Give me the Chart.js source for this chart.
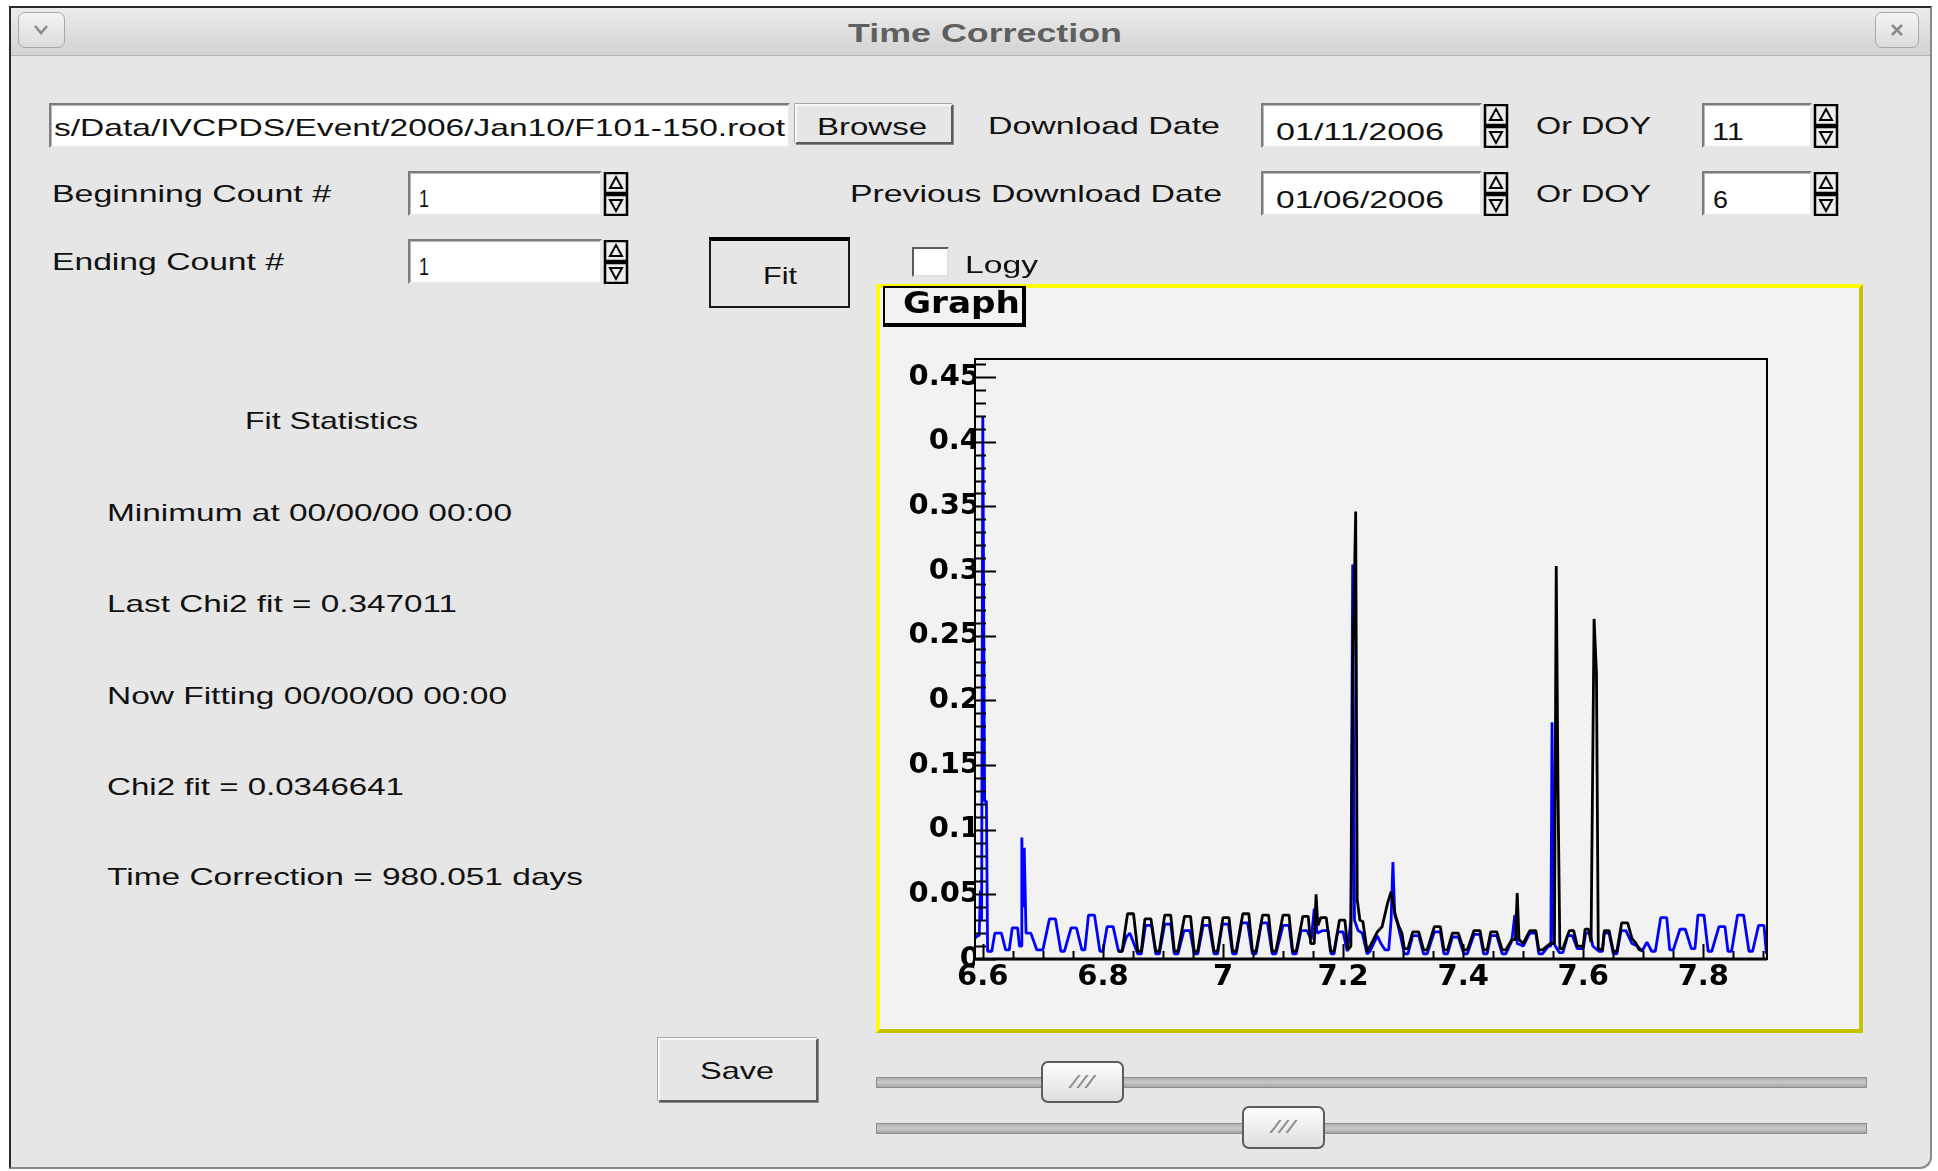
<!DOCTYPE html>
<html>
<head>
<meta charset="utf-8">
<script src="https://cdn.jsdelivr.net/npm/chart.js@4.4.1/dist/chart.umd.min.js"></script>
<style>
  html,body{margin:0;padding:0;}
  body{width:1938px;height:1171px;overflow:hidden;position:relative;background:#ffffff;font-family:"Liberation Sans",Arial,sans-serif;color:#111;}
  .abs{position:absolute;box-sizing:border-box;}
  #win{left:9px;top:6px;width:1923px;height:1163px;background:#e6e6e6;border-left:2px solid #2a2a2a;border-top:2px solid #2a2a2a;border-right:2px solid #8a8a8a;border-bottom:2px solid #8a8a8a;border-radius:0 0 12px 0;}
  #titlebar{left:11px;top:8px;width:1919px;height:48px;background:linear-gradient(#ececec,#d2d2d2);border-bottom:1px solid #b4b4b4;}
  .tbtn{border:1px solid #a8a8a8;border-radius:7px;background:linear-gradient(#f4f4f4,#dcdcdc);}
  .t{position:absolute;white-space:nowrap;line-height:1;transform-origin:0 50%;transform:translateY(-50%);}
  .entry{background:#fff;border-style:solid;border-width:2px;border-color:#7c7c7c #e8e8e8 #e8e8e8 #7c7c7c;box-shadow:inset 1px 1px 0 #b8b8b8;}
  .btn{background:#e6e6e6;border-style:solid;border-width:2px;border-color:#f8f8f8 #5a5a5a #5a5a5a #f8f8f8;box-shadow:1px 1px 0 #8c8c8c, -1px -1px 0 #a8a8a8;}
  .track{background:linear-gradient(#b0b0b0,#c8c8c8 50%,#a4a4a4);border:1px solid #8e8e8e;}
  .thumb{border:2px solid #5c5c5c;border-radius:7px;background:linear-gradient(#fdfdfd,#dedede);}
  #yellow{left:876px;top:284px;width:987px;height:749px;border-style:solid;border-width:4px;border-color:#ffff00 #c4c400 #c4c400 #ffff00;background:#f2f2f2;}
  #chartbox{position:absolute;left:880px;top:288px;width:979px;height:741px;}
  #graphbox{left:883px;top:286px;width:143px;height:41px;border-left:2px solid #000;border-top:2px solid #000;border-right:4px solid #000;border-bottom:4px solid #000;background:#f2f2f2;}
</style>
</head>
<body>
<div id="win" class="abs"></div>
<div id="titlebar" class="abs"></div>
<div class="abs tbtn" style="left:18px;top:12px;width:47px;height:36px;">
  <svg width="45" height="34" style="position:absolute;left:0;top:0"><polyline points="16,13 22,20 28,13" fill="none" stroke="#8a8a8a" stroke-width="2.5"/></svg>
</div>
<div class="abs tbtn" style="left:1875px;top:12px;width:44px;height:36px;">
  <svg width="42" height="34" style="position:absolute;left:0;top:0"><path d="M16,12 L26,22 M26,12 L16,22" stroke="#8a8a8a" stroke-width="2.5"/></svg>
</div>

<!-- entries -->
<div class="abs entry" style="left:49px;top:103px;width:741px;height:45px;"></div>
<div class="abs btn" style="left:795px;top:104px;width:158px;height:40px;"></div>
<div class="abs entry" style="left:1261px;top:103px;width:221px;height:45px;"></div>
<div class="abs entry" style="left:1702px;top:103px;width:110px;height:45px;"></div>
<div class="abs entry" style="left:408px;top:171px;width:194px;height:45px;"></div>
<div class="abs entry" style="left:1261px;top:171px;width:221px;height:45px;"></div>
<div class="abs entry" style="left:1702px;top:171px;width:110px;height:45px;"></div>
<div class="abs entry" style="left:408px;top:239px;width:194px;height:45px;"></div>
<div class="abs" style="left:709px;top:237px;width:141px;height:71px;border:2px solid #1a1a1a;border-top:4px solid #000;background:#e6e6e6;"></div>
<div class="abs" style="left:912px;top:247px;width:37px;height:30px;background:#fff;border-style:solid;border-width:2px;border-color:#5a5a5a #e0e0e0 #e0e0e0 #5a5a5a;"></div>
<div class="abs btn" style="left:658px;top:1038px;width:160px;height:64px;"></div>

<!-- sliders -->
<div class="abs track" style="left:876px;top:1077px;width:991px;height:11px;"></div>
<div class="abs track" style="left:876px;top:1123px;width:991px;height:11px;"></div>
<div class="abs thumb" style="left:1041px;top:1061px;width:83px;height:42px;"></div>
<div class="abs thumb" style="left:1242px;top:1106px;width:83px;height:43px;"></div>

<div id="yellow" class="abs"></div>
<div id="chartbox"><canvas id="c"></canvas></div>
<div id="graphbox" class="abs"></div>

<script>
// ---------------- data ----------------
const xTickValues = [6.6, 6.8, 7, 7.2, 7.4, 7.6, 7.8];
const yTickValues = [0, 0.05, 0.1, 0.15, 0.2, 0.25, 0.3, 0.35, 0.4, 0.45];
const xRange = [6.587, 7.906];
const yRange = [0, 0.464];

const blackX = [6.826,6.832,6.841,6.851,6.858,6.864,6.870,6.880,6.888,6.894,6.903,6.913,6.919,6.925,6.936,6.946,6.952,6.958,6.967,6.977,6.985,6.991,7.000,7.010,7.016,7.022,7.033,7.043,7.049,7.055,7.066,7.076,7.082,7.088,7.100,7.110,7.116,7.122,7.133,7.142,7.146,7.152,7.155,7.158,7.163,7.172,7.179,7.185,7.194,7.203,7.208,7.213,7.216,7.221,7.2235,7.228,7.233,7.240,7.245,7.257,7.265,7.274,7.280,7.287,7.293,7.298,7.302,7.308,7.316,7.326,7.334,7.340,7.352,7.362,7.368,7.374,7.382,7.392,7.401,7.407,7.418,7.428,7.434,7.440,7.446,7.456,7.465,7.471,7.481,7.487,7.490,7.493,7.500,7.511,7.521,7.526,7.532,7.545,7.552,7.555,7.558,7.561,7.566,7.573,7.577,7.584,7.590,7.600,7.603,7.609,7.613,7.618,7.622,7.625,7.632,7.635,7.643,7.650,7.656,7.664,7.674,7.681,7.688,7.693,7.699];
const blackY = [0.006,0.006,0.035,0.035,0.006,0.006,0.031,0.031,0.006,0.006,0.034,0.034,0.006,0.006,0.033,0.033,0.006,0.006,0.032,0.032,0.006,0.006,0.032,0.032,0.006,0.006,0.035,0.035,0.006,0.006,0.034,0.034,0.006,0.006,0.034,0.034,0.006,0.006,0.033,0.033,0.012,0.012,0.050,0.026,0.032,0.032,0.006,0.006,0.030,0.030,0.007,0.010,0.223,0.346,0.046,0.030,0.029,0.006,0.010,0.021,0.025,0.043,0.052,0.034,0.025,0.020,0.008,0.008,0.021,0.021,0.007,0.007,0.025,0.025,0.007,0.007,0.020,0.020,0.007,0.007,0.022,0.022,0.007,0.007,0.021,0.021,0.007,0.007,0.015,0.015,0.051,0.015,0.012,0.022,0.022,0.007,0.007,0.012,0.012,0.304,0.128,0.008,0.008,0.017,0.022,0.022,0.010,0.010,0.023,0.023,0.013,0.263,0.221,0.008,0.007,0.022,0.022,0.006,0.006,0.028,0.028,0.016,0.012,0.007,0.007];

const blueX = [6.587,6.591,6.594,6.596,6.598,6.600,6.603,6.606,6.608,6.615,6.620,6.631,6.638,6.644,6.649,6.658,6.661,6.664,6.665,6.667,6.669,6.672,6.680,6.690,6.700,6.711,6.721,6.730,6.736,6.747,6.756,6.765,6.770,6.776,6.786,6.795,6.800,6.807,6.817,6.826,6.832,6.839,6.845,6.858,6.864,6.871,6.881,6.888,6.894,6.903,6.913,6.919,6.925,6.935,6.945,6.952,6.958,6.967,6.977,6.985,6.991,6.999,7.009,7.016,7.022,7.031,7.041,7.049,7.055,7.064,7.074,7.082,7.088,7.100,7.110,7.116,7.122,7.130,7.140,7.147,7.152,7.157,7.166,7.175,7.180,7.185,7.191,7.200,7.207,7.213,7.216,7.219,7.225,7.232,7.240,7.245,7.257,7.263,7.270,7.276,7.280,7.283,7.286,7.291,7.297,7.302,7.308,7.316,7.326,7.334,7.340,7.352,7.362,7.368,7.374,7.382,7.392,7.401,7.407,7.418,7.428,7.434,7.440,7.446,7.456,7.465,7.471,7.481,7.486,7.490,7.500,7.511,7.521,7.526,7.532,7.542,7.546,7.548,7.551,7.560,7.566,7.574,7.582,7.590,7.600,7.604,7.611,7.616,7.626,7.632,7.635,7.643,7.650,7.656,7.663,7.671,7.681,7.690,7.698,7.706,7.714,7.720,7.729,7.739,7.744,7.750,7.761,7.770,7.780,7.786,7.791,7.801,7.808,7.814,7.826,7.836,7.841,7.847,7.857,7.867,7.876,7.882,7.892,7.901,7.905];
const blueY = [0.016,0.018,0.018,0.053,0.030,0.420,0.122,0.122,0.006,0.006,0.020,0.020,0.007,0.007,0.024,0.024,0.010,0.010,0.094,0.040,0.086,0.020,0.020,0.007,0.007,0.031,0.031,0.006,0.006,0.024,0.024,0.007,0.007,0.034,0.034,0.006,0.006,0.025,0.025,0.006,0.006,0.017,0.020,0.004,0.004,0.026,0.026,0.004,0.004,0.027,0.027,0.004,0.004,0.022,0.022,0.004,0.004,0.026,0.026,0.004,0.004,0.027,0.027,0.004,0.004,0.028,0.028,0.004,0.004,0.028,0.028,0.004,0.004,0.026,0.026,0.004,0.004,0.022,0.022,0.015,0.039,0.020,0.022,0.022,0.004,0.004,0.021,0.021,0.006,0.030,0.305,0.030,0.022,0.020,0.004,0.006,0.018,0.012,0.007,0.007,0.030,0.075,0.034,0.027,0.015,0.004,0.004,0.018,0.018,0.004,0.004,0.021,0.021,0.004,0.004,0.017,0.017,0.004,0.004,0.019,0.019,0.004,0.004,0.018,0.018,0.004,0.004,0.014,0.034,0.012,0.010,0.020,0.020,0.004,0.004,0.010,0.010,0.183,0.012,0.005,0.005,0.018,0.018,0.008,0.008,0.020,0.020,0.010,0.006,0.006,0.020,0.020,0.004,0.004,0.022,0.022,0.012,0.010,0.006,0.013,0.006,0.006,0.032,0.032,0.007,0.007,0.023,0.023,0.008,0.008,0.034,0.034,0.006,0.006,0.025,0.025,0.006,0.006,0.034,0.034,0.006,0.006,0.026,0.026,0.004];

// ---------------- UI text ----------------
function lab(text, x1, x2, cy, size, extra){
  const d = document.createElement('div');
  d.className = 't';
  d.textContent = text;
  d.style.left = x1 + 'px';
  d.style.top = cy + 'px';
  d.style.fontSize = size + 'px';
  if (extra) Object.assign(d.style, extra);
  document.body.appendChild(d);
  const w = d.getBoundingClientRect().width;
  d.style.transform = 'translateY(-50%) scaleX(' + ((x2 - x1) / w) + ')';
  return d;
}
function spinner(x, y, w, h){
  const s = document.createElementNS('http://www.w3.org/2000/svg','svg');
  s.setAttribute('width', w); s.setAttribute('height', h);
  s.style.position = 'absolute'; s.style.left = x + 'px'; s.style.top = y + 'px';
  const hh = h / 2, cx = w / 2;
  s.innerHTML =
    '<rect x="2" y="1" width="' + (w-4) + '" height="' + (hh-2) + '" fill="#ececec" stroke="#000" stroke-width="2.5"/>' +
    '<rect x="2" y="' + (hh+1) + '" width="' + (w-4) + '" height="' + (hh-2) + '" fill="#ececec" stroke="#000" stroke-width="2.5"/>' +
    '<path d="M' + (cx-6) + ',' + (hh-6) + ' L' + cx + ',' + 5 + ' L' + (cx+6) + ',' + (hh-6) + ' Z" fill="none" stroke="#000" stroke-width="2"/>' +
    '<path d="M' + (cx-6) + ',' + (hh+6) + ' L' + cx + ',' + (h-5) + ' L' + (cx+6) + ',' + (hh+6) + ' Z" fill="none" stroke="#000" stroke-width="2"/>';
  document.body.appendChild(s);
}

const F = 24;
lab('Time Correction', 848, 1122, 33, 26, {fontWeight:'bold', color:'#5f5f5f'});
lab('s/Data/IVCPDS/Event/2006/Jan10/F101-150.root', 54, 785, 128, F);
lab('Browse', 817, 927, 127, F);
lab('Download Date', 988, 1220, 126, F);
lab('01/11/2006', 1276, 1444, 132, F);
lab('Or DOY', 1536, 1651, 126, F);
lab('11', 1712, 1744, 132, F);
lab('Beginning Count #', 52, 331, 194, F);
lab('1', 419, 429, 199, F);
lab('Previous Download Date', 850, 1222, 194, F);
lab('01/06/2006', 1276, 1444, 200, F);
lab('Or DOY', 1536, 1651, 194, F);
lab('6', 1713, 1728, 200, F);
lab('Ending Count #', 52, 284, 262, F);
lab('1', 419, 429, 267, F);
lab('Fit', 763, 797, 276, F);
lab('Logy', 965, 1038, 265, F);
lab('Fit Statistics', 245, 418, 421, F);
lab('Minimum at 00/00/00 00:00', 107, 512, 513, F);
lab('Last Chi2 fit = 0.347011', 107, 457, 604, F);
lab('Now Fitting 00/00/00 00:00', 107, 507, 696, F);
lab('Chi2 fit = 0.0346641', 107, 404, 787, F);
lab('Time Correction = 980.051 days', 107, 583, 877, F);
lab('Save', 700, 774, 1071, F);
lab('///', 1070, 1094, 1082, 18, {color:'#8a8a8a', fontStyle:'italic'});
lab('///', 1271, 1295, 1127, 18, {color:'#8a8a8a', fontStyle:'italic'});
lab('Graph', 903, 1020, 303, 30, {fontFamily:'"DejaVu Sans"', fontWeight:'bold', color:'#000'});

spinner(1483, 104, 26, 44);
spinner(1813, 104, 26, 44);
spinner(603, 172, 26, 44);
spinner(1483, 172, 26, 44);
spinner(1813, 172, 26, 44);
spinner(603, 240, 26, 44);

// ---------------- chart ----------------
const rootFrame = {
  id: 'rootFrame',
  afterDatasetsDraw(chart){
    const {ctx, chartArea: a, scales: {x, y}} = chart;
    ctx.save();
    ctx.strokeStyle = '#000';
    ctx.lineWidth = 2;
    ctx.beginPath();
    for (let i = 0; i <= 46; i++) {
      const py = Math.round(y.getPixelForValue(i / 100)) + 0.5;
      const len = (i % 5 === 0) ? 21 : 11;
      ctx.moveTo(a.left, py); ctx.lineTo(a.left + len, py);
    }
    for (let k = 132; k <= 158; k++) {
      const px = Math.round(x.getPixelForValue(k * 0.05)) + 0.5;
      const len = (k % 4 === 0) ? 15 : 8;
      ctx.moveTo(px, a.bottom); ctx.lineTo(px, a.bottom - len);
    }
    ctx.stroke();
    ctx.lineWidth = 2;
    ctx.strokeRect(a.left, a.top, a.right - a.left, a.bottom - a.top);
    ctx.lineWidth = 3;
    ctx.beginPath();
    ctx.moveTo(a.left, a.bottom); ctx.lineTo(a.right, a.bottom);
    ctx.stroke();
    ctx.restore();
  }
};

const tickFont = {family: '"DejaVu Sans"', weight: 'bold', size: 29};
new Chart(document.getElementById('c'), {
  type: 'scatter',
  data: {
    datasets: [
      {label: 'black', data: blackX.map((v, i) => ({x: v, y: blackY[i]})), showLine: true,
       borderColor: '#000000', borderWidth: 2.8, pointRadius: 0, order: 0},
      {label: 'blue', data: blueX.map((v, i) => ({x: v, y: blueY[i]})), showLine: true,
       borderColor: '#0000ff', borderWidth: 2.8, pointRadius: 0, order: 1}
    ]
  },
  options: {
    responsive: true, maintainAspectRatio: false, animation: false, devicePixelRatio: 1,
    layout: {padding: {left: 0, right: 92, top: 71, bottom: 0}},
    elements: {line: {tension: 0, borderJoinStyle: 'bevel'}},
    plugins: {legend: {display: false}, tooltip: {enabled: false}, title: {display: false}},
    scales: {
      x: {
        type: 'linear', min: xRange[0], max: xRange[1],
        afterFit(s){ s.height = 70; },
        afterBuildTicks(s){ s.ticks = xTickValues.map(v => ({value: v})); },
        grid: {display: false, drawTicks: false}, border: {display: false},
        ticks: {font: tickFont, color: '#000', padding: 1, maxRotation: 0, autoSkip: false,
                callback: v => String(v)}
      },
      y: {
        type: 'linear', min: yRange[0], max: yRange[1],
        afterFit(s){ s.width = 95; },
        afterBuildTicks(s){ s.ticks = yTickValues.map(v => ({value: v})); },
        grid: {display: false, drawTicks: false}, border: {display: false},
        ticks: {font: tickFont, color: '#000', padding: -5, autoSkip: false,
                callback: v => String(v)}
      }
    }
  },
  plugins: [rootFrame]
});
</script>
</body>
</html>
